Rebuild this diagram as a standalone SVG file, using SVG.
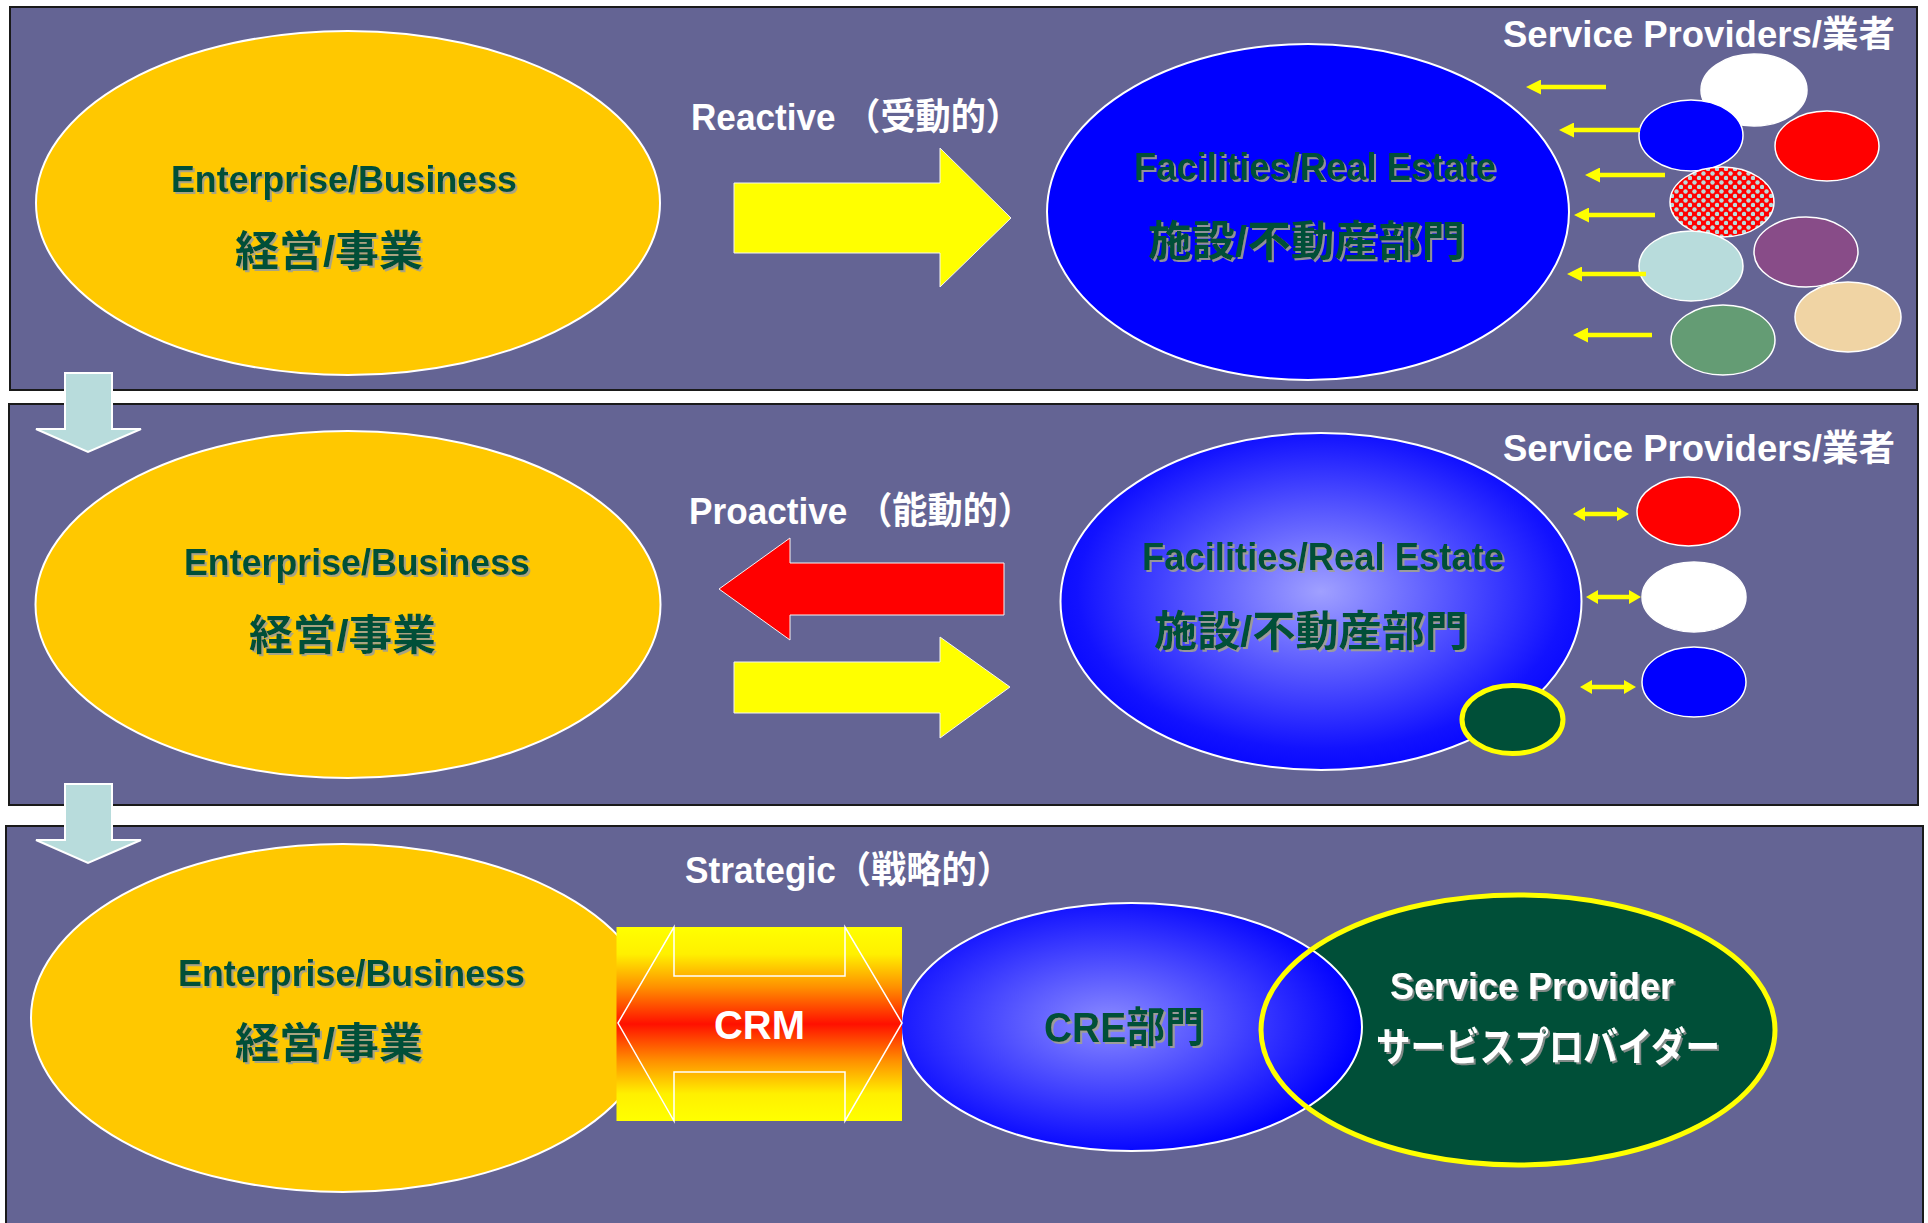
<svg xmlns="http://www.w3.org/2000/svg" width="1928" height="1223" viewBox="0 0 1928 1223">
<defs>
<style>
.panel{fill:#646494;stroke:#1a1a1a;stroke-width:2}
.gold{fill:#FFC800;stroke:#ffffff;stroke-width:2}
.lbl{font-family:"Liberation Sans","Noto Sans CJK JP",sans-serif;font-weight:bold}
.dg{fill:#004F38;filter:url(#sh)}
.wt{fill:#ffffff}
.wts{fill:#ffffff;filter:url(#sh2)}
.sp{stroke:#ffffff;stroke-width:1.5}
.ya{stroke:#FFFF00;stroke-width:4.5;fill:none}
.big{stroke:#f4f4f4;stroke-width:1}
</style>
<filter id="sh" x="-5%" y="-20%" width="110%" height="140%"><feDropShadow dx="2" dy="2" stdDeviation="0.3" flood-color="#A0A090" flood-opacity="0.9"/></filter>
<filter id="sh2" x="-5%" y="-20%" width="110%" height="140%"><feDropShadow dx="2" dy="2" stdDeviation="0.3" flood-color="#909090" flood-opacity="0.9"/></filter>
<marker id="ah" viewBox="0 0 15 15" refX="1" refY="7.5" markerWidth="15" markerHeight="15" markerUnits="userSpaceOnUse" orient="auto-start-reverse"><path d="M0,0 L15,7.5 L0,15 z" fill="#FFFF00"/></marker>
<marker id="ah2" viewBox="0 0 12 14" refX="1" refY="7" markerWidth="12" markerHeight="14" markerUnits="userSpaceOnUse" orient="auto-start-reverse"><path d="M0,0 L12,7 L0,14 z" fill="#FFFF00"/></marker>
<radialGradient id="bg1" cx="50%" cy="47%" r="52%"><stop offset="0" stop-color="#A0A0FF"/><stop offset="0.9" stop-color="#1212FF"/><stop offset="1" stop-color="#0A0AFF"/></radialGradient>
<radialGradient id="bg2" cx="0.45" cy="0.48" r="0.55"><stop offset="0" stop-color="#8A8AFF"/><stop offset="0.9" stop-color="#0E0EFF"/><stop offset="1" stop-color="#0000FF"/></radialGradient>
<linearGradient id="crm" x1="0" y1="0" x2="0" y2="1"><stop offset="0" stop-color="#FFFF00"/><stop offset="0.14" stop-color="#FFF000"/><stop offset="0.31" stop-color="#FF9000"/><stop offset="0.5" stop-color="#FF1000"/><stop offset="0.69" stop-color="#FF9000"/><stop offset="0.86" stop-color="#FFF000"/><stop offset="1" stop-color="#FFFF00"/></linearGradient>
<pattern id="chk" width="9" height="9" patternUnits="userSpaceOnUse"><rect width="9" height="9" fill="#FF0000"/><circle cx="2.5" cy="2.5" r="2.2" fill="#B8DCDC"/><circle cx="7" cy="7" r="2.2" fill="#B8DCDC"/></pattern>
</defs>

<g id="panels">
<rect id="panel1" class="panel" x="10" y="7" width="1907" height="383"/>
<rect id="panel2" class="panel" x="9" y="404" width="1909" height="401"/>
<rect id="panel3" class="panel" x="6" y="826" width="1917" height="400"/>
</g>

<!-- Panel 1 -->
<g id="enterprise1">
<ellipse class="gold" cx="348" cy="203" rx="312" ry="172"/>
<text class="lbl dg" x="171" y="192" font-size="37" textLength="346" lengthAdjust="spacingAndGlyphs">Enterprise/Business</text>
<text class="lbl dg" x="235" y="266" font-size="42" textLength="188" lengthAdjust="spacingAndGlyphs">経営/事業</text>
</g>
<g id="reactive-label"><text class="lbl wt" x="691" y="130" font-size="37" textLength="330" lengthAdjust="spacingAndGlyphs">Reactive （受動的）</text></g>
<g id="facilities1">
<ellipse cx="1308" cy="212" rx="261" ry="168" fill="#0000FF" stroke="#ffffff" stroke-width="2"/>
<text class="lbl dg" x="1134" y="180" font-size="38" textLength="362" lengthAdjust="spacingAndGlyphs">Facilities/Real Estate</text>
<text class="lbl dg" x="1148" y="256" font-size="42" textLength="317" lengthAdjust="spacingAndGlyphs">施設/不動産部門</text>
</g>
<g id="providers1">
<text class="lbl wt" x="1503" y="47" font-size="36" textLength="392" lengthAdjust="spacingAndGlyphs">Service Providers/業者</text>
<ellipse class="sp" cx="1754" cy="90" rx="53" ry="36" fill="#ffffff"/>
<ellipse class="sp" cx="1691" cy="135.5" rx="52" ry="35.5" fill="#0000FF"/>
<ellipse class="sp" cx="1827" cy="146" rx="52" ry="35" fill="#FF0000"/>
<ellipse class="sp" cx="1722" cy="202" rx="52" ry="35" fill="url(#chk)"/>
<ellipse class="sp" cx="1691" cy="266" rx="52" ry="35" fill="#B8DCDC"/>
<ellipse class="sp" cx="1806" cy="252" rx="52" ry="35" fill="#884C88"/>
<ellipse class="sp" cx="1848" cy="317" rx="53" ry="35" fill="#F0D4A4"/>
<ellipse class="sp" cx="1723" cy="340" rx="52" ry="35" fill="#649C74"/>
</g>

<!-- Panel 2 -->
<g id="enterprise2">
<ellipse class="gold" cx="348" cy="604.5" rx="312.5" ry="173.5"/>
<text class="lbl dg" x="184" y="575" font-size="37" textLength="346" lengthAdjust="spacingAndGlyphs">Enterprise/Business</text>
<text class="lbl dg" x="249" y="650" font-size="42" textLength="187" lengthAdjust="spacingAndGlyphs">経営/事業</text>
</g>
<g id="proactive-label"><text class="lbl wt" x="689" y="524" font-size="37" textLength="344" lengthAdjust="spacingAndGlyphs">Proactive （能動的）</text></g>
<g id="facilities2">
<ellipse cx="1321" cy="601.5" rx="260.5" ry="168.5" fill="url(#bg1)" stroke="#ffffff" stroke-width="2"/>
<text class="lbl dg" x="1142" y="570" font-size="38" textLength="362" lengthAdjust="spacingAndGlyphs">Facilities/Real Estate</text>
<text class="lbl dg" x="1154" y="646" font-size="42" textLength="314" lengthAdjust="spacingAndGlyphs">施設/不動産部門</text>
<ellipse cx="1512.5" cy="719.5" rx="50.5" ry="34" fill="#004F38" stroke="#FFFF00" stroke-width="5"/>
</g>
<g id="providers2">
<text class="lbl wt" x="1503" y="461" font-size="36" textLength="392" lengthAdjust="spacingAndGlyphs">Service Providers/業者</text>
<ellipse class="sp" cx="1688.5" cy="511.5" rx="51.5" ry="34.5" fill="#FF0000"/>
<ellipse class="sp" cx="1694" cy="597" rx="52" ry="35" fill="#ffffff"/>
<ellipse class="sp" cx="1694" cy="682" rx="52" ry="35" fill="#0000FF"/>
</g>

<!-- Panel 3 -->
<g id="enterprise3">
<ellipse class="gold" cx="343" cy="1018" rx="312" ry="174"/>
<text class="lbl dg" x="178" y="986" font-size="37" textLength="347" lengthAdjust="spacingAndGlyphs">Enterprise/Business</text>
<text class="lbl dg" x="235" y="1058" font-size="42" textLength="188" lengthAdjust="spacingAndGlyphs">経営/事業</text>
</g>
<g id="strategic-label"><text class="lbl wt" x="685" y="883" font-size="37" textLength="327" lengthAdjust="spacingAndGlyphs">Strategic（戦略的）</text></g>
<g id="cre-provider">
<ellipse cx="1518" cy="1030" rx="257" ry="135" fill="#004F38"/>
<ellipse cx="1131.5" cy="1027" rx="230.5" ry="124" fill="url(#bg2)" stroke="#ffffff" stroke-width="2"/>
<ellipse cx="1518" cy="1030" rx="257" ry="135" fill="none" stroke="#FFFF00" stroke-width="5"/>
<text class="lbl dg" x="1044" y="1042" font-size="42" textLength="160" lengthAdjust="spacingAndGlyphs">CRE部門</text>
<text class="lbl wts" x="1390" y="999" font-size="37" textLength="284" lengthAdjust="spacingAndGlyphs">Service Provider</text>
<text class="lbl wts" x="1376" y="1061" font-size="40" textLength="344" lengthAdjust="spacingAndGlyphs">サービスプロバイダー</text>
</g>
<g id="crm">
<rect x="616.5" y="927" width="285.5" height="194" fill="url(#crm)"/>
<polygon points="618,1023 674,927 674,976 845,976 845,927 902,1023 845,1121 845,1072 674,1072 674,1121" fill="none" stroke="#ffffff" stroke-width="1.5"/>
<text class="lbl wt" x="714" y="1039" font-size="41" textLength="91" lengthAdjust="spacingAndGlyphs">CRM</text>
</g>

<!-- Connectors -->
<g id="connectors">
<polygon class="big" points="734,183 940,183 940,148 1011,218 940,287 940,253 734,253" fill="#FFFF00"/>
<polygon class="big" points="1004,563 790,563 790,538 719,589 790,640 790,615 1004,615" fill="#FF0000" stroke="#ffffff"/>
<polygon class="big" points="734,662 940,662 940,637 1010,687 940,738 940,713 734,713" fill="#FFFF00"/>
<line class="ya" x1="1606" y1="87" x2="1540" y2="87" marker-end="url(#ah)"/>
<line class="ya" x1="1640" y1="130" x2="1573" y2="130" marker-end="url(#ah)"/>
<line class="ya" x1="1665" y1="175" x2="1599" y2="175" marker-end="url(#ah)"/>
<line class="ya" x1="1655" y1="215" x2="1588" y2="215" marker-end="url(#ah)"/>
<line class="ya" x1="1646" y1="274" x2="1581" y2="274" marker-end="url(#ah)"/>
<line class="ya" x1="1652" y1="335" x2="1587" y2="335" marker-end="url(#ah)"/>
<line class="ya" x1="1584" y1="514" x2="1618" y2="514" stroke-width="3" marker-start="url(#ah2)" marker-end="url(#ah2)"/>
<line class="ya" x1="1597" y1="597" x2="1630" y2="597" stroke-width="3" marker-start="url(#ah2)" marker-end="url(#ah2)"/>
<line class="ya" x1="1591" y1="687" x2="1625" y2="687" stroke-width="3" marker-start="url(#ah2)" marker-end="url(#ah2)"/>
<polygon points="65,373 112,373 112,429 141,429 88,452 36,429 65,429" fill="#B8DCDC" stroke="#ffffff" stroke-width="2"/>
<polygon points="65,784 112,784 112,840 141,840 88,863 36,840 65,840" fill="#B8DCDC" stroke="#ffffff" stroke-width="2"/>
</g>
</svg>
